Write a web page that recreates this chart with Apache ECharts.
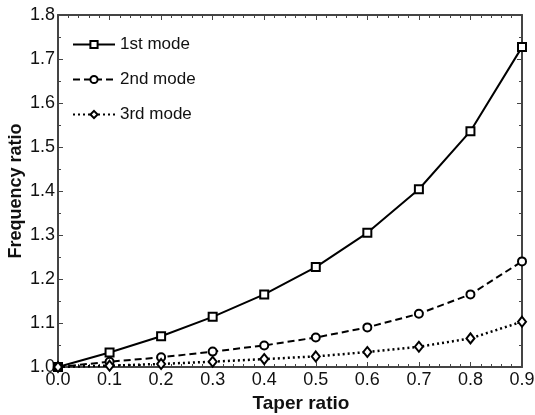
<!DOCTYPE html>
<html>
<head>
<meta charset="utf-8">
<script src="https://cdn.jsdelivr.net/npm/echarts@6/dist/echarts.min.js"></script>
<style>
  html, body { margin: 0; padding: 0; background: #fff; }
  #chart { width: 535px; height: 415px; }
</style>
</head>
<body>
<div id="chart"></div>
<script>
// taper ratio on x, frequency ratio on y
const taper = [0.0, 0.1, 0.2, 0.3, 0.4, 0.5, 0.6, 0.7, 0.8, 0.9];
const mode1 = [1.000, 1.033, 1.070, 1.114, 1.165, 1.227, 1.305, 1.404, 1.536, 1.727];
const mode2 = [1.000, 1.012, 1.022, 1.035, 1.049, 1.067, 1.090, 1.121, 1.165, 1.240];
const mode3 = [1.000, 1.003, 1.007, 1.012, 1.018, 1.024, 1.034, 1.046, 1.065, 1.103];
const seriesNames = ['1st mode', '2nd mode', '3rd mode'];

const axisColor = '#444';
const font = 'Liberation Sans, Arial, sans-serif';

function pairs(ys) {
  return taper.map((x, i) => [x, ys[i]]);
}

const chart = echarts.init(document.getElementById('chart'));

const baseX = {
  type: 'value', min: 0, max: 0.9, interval: 0.1,
  axisLine: { show: true, onZero: false, lineStyle: { color: axisColor, width: 2 } },
  axisTick: { show: true, inside: true, length: 5, lineStyle: { color: axisColor } },
  minorTick: { show: true, splitNumber: 5, length: 3, lineStyle: { color: axisColor } },
  splitLine: { show: false }
};
const baseY = {
  type: 'value', min: 1.0, max: 1.8, interval: 0.1,
  axisLine: { show: true, onZero: false, lineStyle: { color: axisColor, width: 2 } },
  axisTick: { show: true, inside: true, length: 5, lineStyle: { color: axisColor } },
  minorTick: { show: true, splitNumber: 2, length: 3, lineStyle: { color: axisColor } },
  splitLine: { show: false }
};

const option = {
  animation: false,
  backgroundColor: '#fff',
  grid: { left: 58, right: 13, top: 15, bottom: 48, outerBoundsMode: 'none' },
  legend: {
    orient: 'vertical',
    left: 67, top: 31,
    itemWidth: 42, itemHeight: 9, itemGap: 18, itemTextGap: 1,
    textStyle: { fontFamily: font, fontSize: 17, color: '#111' },
    data: seriesNames
  },
  xAxis: [
    Object.assign({}, baseX, {
      position: 'bottom',
      name: 'Taper ratio', nameLocation: 'middle', nameGap: 27, nameMoveOverlap: false,
      nameTextStyle: { fontFamily: font, fontWeight: 'bold', fontSize: 19, color: '#111',
        padding: [0, 0, 0, 22] },
      axisLabel: { fontFamily: font, fontSize: 18, color: '#111', margin: 4,
        formatter: v => v.toFixed(1) }
    }),
    Object.assign({}, baseX, { position: 'top', axisLabel: { show: false } })
  ],
  yAxis: [
    Object.assign({}, baseY, {
      position: 'left',
      name: 'Frequency ratio', nameLocation: 'middle', nameGap: 33, nameMoveOverlap: false,
      nameTextStyle: { fontFamily: font, fontWeight: 'bold', fontSize: 18, color: '#111' },
      axisLabel: { fontFamily: font, fontSize: 18, color: '#111', margin: 3,
        formatter: v => v.toFixed(1) }
    }),
    Object.assign({}, baseY, { position: 'right', axisLabel: { show: false } })
  ],
  series: [
    {
      name: seriesNames[0], type: 'line', data: pairs(mode1),
      symbol: 'rect', symbolSize: 8, showAllSymbol: true,
      lineStyle: { color: '#000', width: 2, type: 'solid' },
      itemStyle: { color: '#fff', borderColor: '#000', borderWidth: 2 }
    },
    {
      name: seriesNames[1], type: 'line', data: pairs(mode2),
      symbol: 'circle', symbolSize: 8, showAllSymbol: true,
      lineStyle: { color: '#000', width: 2, type: [7, 4] },
      itemStyle: { color: '#fff', borderColor: '#000', borderWidth: 2 }
    },
    {
      name: seriesNames[2], type: 'line', data: pairs(mode3),
      symbol: 'diamond', symbolSize: [8, 10], showAllSymbol: true,
      lineStyle: { color: '#000', width: 2.5, type: [2, 3] },
      itemStyle: { color: '#fff', borderColor: '#000', borderWidth: 2 }
    }
  ]
};

chart.setOption(option);
</script>
</body>
</html>
